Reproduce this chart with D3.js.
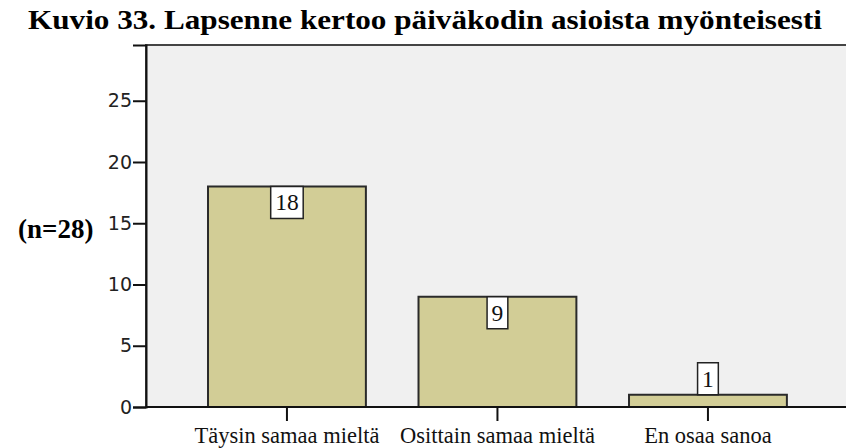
<!DOCTYPE html>
<html><head><meta charset="utf-8">
<script src="https://cdn.jsdelivr.net/npm/d3@7"></script>
<style>body{margin:0;background:#fff}svg{display:block}</style>
</head><body>
<script>
const categories = ["Täysin samaa mieltä", "Osittain samaa mieltä", "En osaa sanoa"];
const counts = [18, 9, 1];
const yTicks = [0, 5, 10, 15, 20, 25];
const title = "Kuvio 33. Lapsenne kertoo päiväkodin asioista myönteisesti";
const nLabel = "(n=28)";

const W = 846, H = 448;
const SERIF = "'Liberation Serif', 'Times New Roman', serif";
const svg = d3.select("body").append("svg").attr("width", W).attr("height", H);

const plot = {left: 146, top: 45, right: 860, bottom: 407};
const y = d3.scaleLinear().domain([0, 29.55]).range([plot.bottom, plot.top]);
const x = d3.scaleBand().domain(categories).range([181.7, 813.2]).paddingInner(0.25).paddingOuter(0.125);

// plot background
svg.append("rect").attr("x", plot.left).attr("y", plot.top)
  .attr("width", plot.right - plot.left).attr("height", plot.bottom - plot.top)
  .attr("fill", "#f0f0f0").attr("stroke", "#444").attr("stroke-width", 2);

// title
svg.append("text").attr("x", 28).attr("y", 29).text(title)
  .attr("font-family", SERIF).attr("font-weight", "bold")
  .attr("font-size", 26.5).attr("textLength", 794).attr("lengthAdjust", "spacingAndGlyphs").attr("fill", "#000");

svg.append("text").attr("x", 18).attr("y", 238).text(nLabel)
  .attr("font-family", SERIF).attr("font-weight", "bold")
  .attr("font-size", 27).attr("fill", "#000");

// bars
svg.append("g").selectAll("rect").data(counts).join("rect")
  .attr("x", (d, i) => x(categories[i]))
  .attr("y", d => y(d))
  .attr("width", x.bandwidth())
  .attr("height", d => y(0) - y(d))
  .attr("fill", "#d2cd96").attr("stroke", "#2a2a2a").attr("stroke-width", 2);

// y axis
const yAxis = svg.append("g").attr("transform", `translate(${plot.left},0)`)
  .call(d3.axisLeft(y).tickValues(yTicks).tickSize(13).tickPadding(1));
yAxis.select(".domain").attr("stroke", "#111").attr("stroke-width", 2);
yAxis.selectAll(".tick line").attr("stroke", "#111").attr("stroke-width", 2);
yAxis.selectAll(".tick text").attr("font-family", "'DejaVu Sans', sans-serif").attr("font-size", 19).attr("fill", "#222");

// x axis
const xAxis = svg.append("g").attr("transform", `translate(0,${plot.bottom})`)
  .call(d3.axisBottom(x).tickSize(14).tickPadding(6).tickSizeOuter(0));
xAxis.select(".domain").attr("stroke", "#111").attr("stroke-width", 2)
  .attr("d", `M${plot.left},0H${W}`);
xAxis.selectAll(".tick line").attr("stroke", "#111").attr("stroke-width", 2);
xAxis.selectAll(".tick text").attr("font-family", SERIF).attr("font-size", 22.5).attr("fill", "#111")
  .attr("y", 36).attr("dy", 0);

// value labels
const lab = svg.append("g").selectAll("g").data(counts).join("g")
  .attr("transform", (d, i) => {
    const cx = x(categories[i]) + x.bandwidth() / 2;
    const top = (y(0) - y(d)) > 40 ? y(d) : y(d) - 32;
    return `translate(${cx},${top})`;
  });
lab.append("text").text(d => d)
  .attr("text-anchor", "middle").attr("y", 24)
  .attr("font-family", SERIF).attr("font-size", 23.5).attr("fill", "#111")
  .each(function () {
    const w = this.getComputedTextLength() + 9;
    d3.select(this.parentNode).insert("rect", "text")
      .attr("x", -w / 2).attr("y", 0).attr("width", w).attr("height", 32)
      .attr("fill", "#fff").attr("stroke", "#222").attr("stroke-width", 1.5);
  });
</script>
</body></html>
